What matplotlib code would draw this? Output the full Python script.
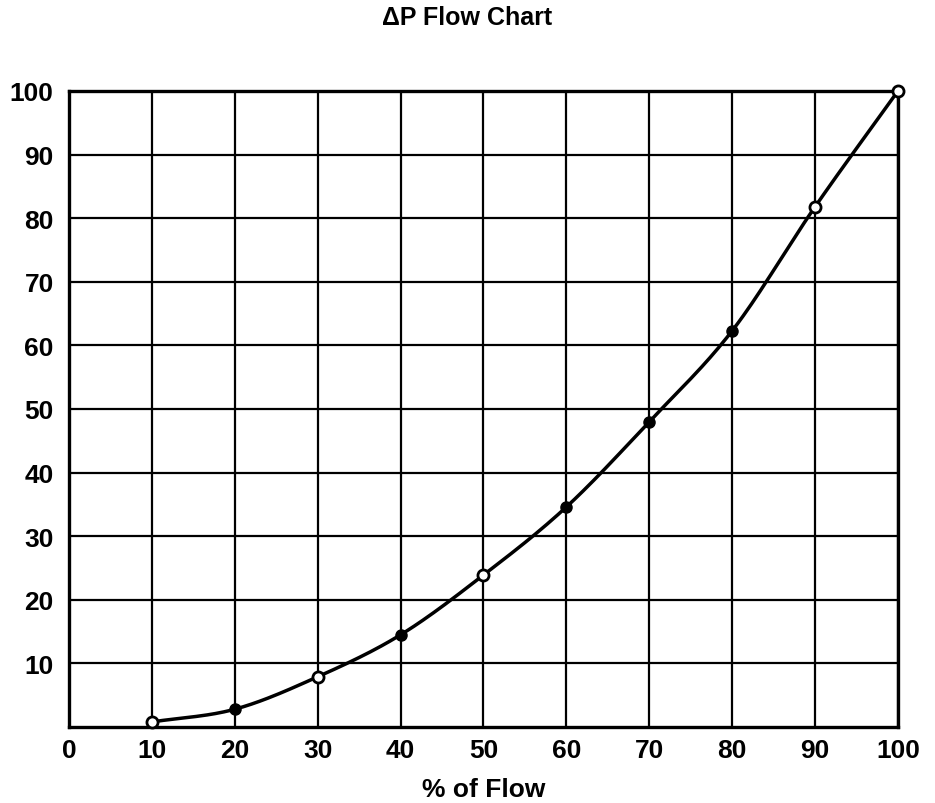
import numpy as np
import matplotlib
matplotlib.use("Agg")
import matplotlib.pyplot as plt

# Pressure drop (% of max) versus flow (% of rated)
flow_pct = [10, 20, 30, 40, 50, 60, 70, 80, 90, 100]
dp_pct = [0.8, 2.8, 7.9, 14.5, 23.9, 34.6, 48.0, 62.3, 81.8, 100.0]
hollow = [True, False, True, False, True, False, False, False, True, True]

x_ticks = [0, 10, 20, 30, 40, 50, 60, 70, 80, 90, 100]
y_ticks = [10, 20, 30, 40, 50, 60, 70, 80, 90, 100]

FONT = ["Liberation Sans Narrow", "Liberation Sans", "DejaVu Sans"]


def catmull_rom(xs, ys, n=30):
    """Smooth curve through the given points (uniform Catmull-Rom)."""
    p = np.column_stack([xs, ys]).astype(float)
    p = np.vstack([2 * p[0] - p[1], p, 2 * p[-1] - p[-2]])
    out = []
    t = np.linspace(0, 1, n, endpoint=False)[:, None]
    for i in range(1, len(p) - 2):
        p0, p1, p2, p3 = p[i - 1], p[i], p[i + 1], p[i + 2]
        seg = 0.5 * ((2 * p1) + (-p0 + p2) * t + (2 * p0 - 5 * p1 + 4 * p2 - p3) * t ** 2
                     + (-p0 + 3 * p1 - 3 * p2 + p3) * t ** 3)
        out.append(seg)
    out.append(p[-2][None, :])
    c = np.vstack(out)
    return c[:, 0], c[:, 1]


fig = plt.figure(figsize=(9.35, 8.04), dpi=100)
ax = fig.add_axes([0.0738, 0.0945, 0.8866, 0.7911])

ax.set_xlim(0, 100)
ax.set_ylim(0, 100)
ax.set_xticks(x_ticks)
ax.set_yticks(y_ticks)
ax.set_xticklabels([str(v) for v in x_ticks], family=FONT, fontweight="bold", fontsize=19)
ax.set_yticklabels([str(v) for v in y_ticks], family=FONT, fontweight="bold", fontsize=19)
ax.tick_params(axis="x", length=0, pad=8)
ax.tick_params(axis="y", length=0, pad=11)

ax.grid(True, color="black", linewidth=1.6)
ax.set_axisbelow(True)
for s in ax.spines.values():
    s.set_linewidth(2.4)
    s.set_color("black")

cx, cy = catmull_rom(flow_pct, dp_pct)
ax.plot(cx, cy, color="black", linewidth=2.5, zorder=3, clip_on=False)

fx = [x for x, h in zip(flow_pct, hollow) if not h]
fy = [y for y, h in zip(dp_pct, hollow) if not h]
hx = [x for x, h in zip(flow_pct, hollow) if h]
hy = [y for y, h in zip(dp_pct, hollow) if h]
ax.plot(fx, fy, "o", color="black", markersize=8, zorder=4, clip_on=False)
ax.plot(hx, hy, "o", markerfacecolor="white", markeredgecolor="black",
        markeredgewidth=2.0, markersize=8, zorder=4, clip_on=False)

ax.set_xlabel("% of Flow", family=FONT, fontweight="bold", fontsize=19, labelpad=11)
fig.suptitle("\u0394P Flow Chart", family=FONT, fontweight="bold", fontsize=18, y=0.992)

fig.savefig("out.png", dpi=100, facecolor="white")
